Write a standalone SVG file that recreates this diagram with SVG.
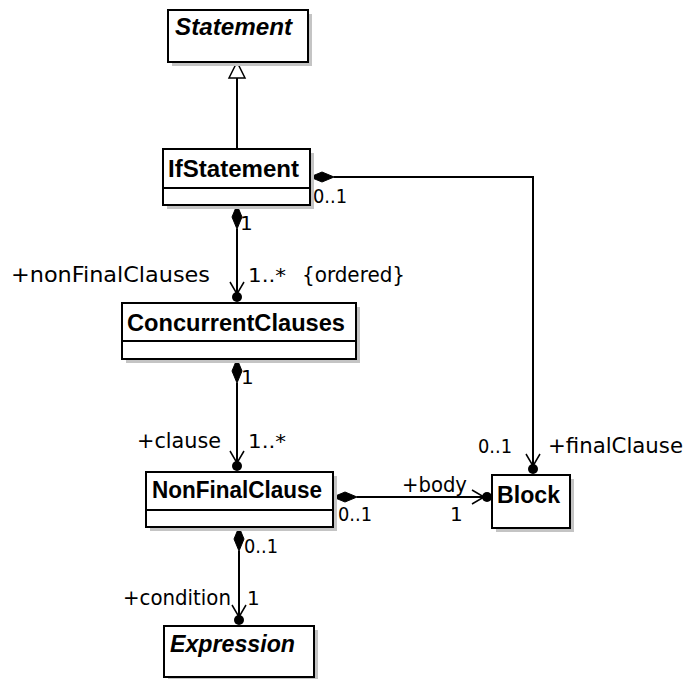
<svg xmlns="http://www.w3.org/2000/svg" width="689" height="679" viewBox="0 0 689 679">
<style>
.shadow{fill:#c4c4c4}
.box{fill:#fff;stroke:#000;stroke-width:2}
.div{stroke:#000;stroke-width:2}
.name{font-family:"Liberation Sans",Arial,sans-serif;font-weight:bold;font-size:23px;fill:#000}
.abs{font-style:italic}
.lbl{font-family:"DejaVu Sans","Liberation Sans",sans-serif;font-size:21px;fill:#000}
.num{font-family:"DejaVu Sans","Liberation Sans",sans-serif;font-size:20px;fill:#000}
.ln{fill:none;stroke:#000;stroke-width:2}
.dia{fill:#000;stroke:#000;stroke-width:1}
.dot{fill:#000}
.arr{fill:none;stroke:#000;stroke-width:1.5}
</style>
<rect width="689" height="679" fill="#fff"/>
<g id="connectors">
  <line class="ln" x1="237" y1="78" x2="237" y2="149"/>
  <polygon points="237,62 229,78 245,78" fill="#fff" stroke="#000" stroke-width="1.5"/>
  <line class="ln" x1="237" y1="229" x2="237" y2="297"/>
  <polygon class="dia" points="237,205 242,217 237,229 232,217"/>
  <polyline class="arr" points="230,282 237,294 244,282"/>
  <circle class="dot" cx="237" cy="297" r="5"/>
  <line class="ln" x1="237" y1="383" x2="237" y2="466"/>
  <polygon class="dia" points="237,359 242,371 237,383 232,371"/>
  <polyline class="arr" points="230,451 237,463 244,451"/>
  <circle class="dot" cx="237" cy="466" r="5"/>
  <line class="ln" x1="239" y1="551" x2="239" y2="620"/>
  <polygon class="dia" points="239,527 244,539 239,551 234,539"/>
  <polyline class="arr" points="232,605 239,617 246,605"/>
  <circle class="dot" cx="239" cy="620" r="5"/>
  <line class="ln" x1="357" y1="497" x2="487" y2="497"/>
  <polygon class="dia" points="333,497 345,492 357,497 345,502"/>
  <polyline class="arr" points="472,490 484,497 472,504"/>
  <circle class="dot" cx="487" cy="497" r="5"/>
  <polyline class="ln" points="334,177 533,177 533,469"/>
  <polygon class="dia" points="310,177 322,172 334,177 322,182"/>
  <polyline class="arr" points="526,454 533,466 540,454"/>
  <circle class="dot" cx="533" cy="469" r="5"/>
  <text class="num" x="313" y="203" textLength="34" lengthAdjust="spacingAndGlyphs">0..1</text>
  <text class="num" x="240" y="230">1</text>
  <text class="lbl" x="11" y="282" textLength="199" lengthAdjust="spacingAndGlyphs">+nonFinalClauses</text>
  <text class="num" x="248" y="282" textLength="38" lengthAdjust="spacingAndGlyphs">1..*</text>
  <text class="lbl" x="302" y="282" textLength="103" lengthAdjust="spacingAndGlyphs">{ordered}</text>
  <text class="num" x="241" y="384">1</text>
  <text class="lbl" x="137" y="448" textLength="84" lengthAdjust="spacingAndGlyphs">+clause</text>
  <text class="num" x="248" y="448" textLength="38" lengthAdjust="spacingAndGlyphs">1..*</text>
  <text class="num" x="478" y="453" textLength="34" lengthAdjust="spacingAndGlyphs">0..1</text>
  <text class="lbl" x="548" y="453" textLength="135" lengthAdjust="spacingAndGlyphs">+finalClause</text>
  <text class="lbl" x="402" y="492" textLength="65" lengthAdjust="spacingAndGlyphs">+body</text>
  <text class="num" x="338" y="521" textLength="34" lengthAdjust="spacingAndGlyphs">0..1</text>
  <text class="num" x="450" y="521">1</text>
  <text class="num" x="244" y="553" textLength="34" lengthAdjust="spacingAndGlyphs">0..1</text>
  <text class="lbl" x="123" y="605" textLength="108" lengthAdjust="spacingAndGlyphs">+condition</text>
  <text class="num" x="247" y="605">1</text>
</g>
<g id="Statement">
  <rect class="shadow" x="172" y="14" width="140" height="52"/>
  <rect class="box" x="168" y="10" width="140" height="52"/>
  <text class="name abs" x="175" y="35" textLength="117" lengthAdjust="spacingAndGlyphs">Statement</text>
</g>
<g id="IfStatement">
  <rect class="shadow" x="167" y="153" width="147" height="56"/>
  <rect class="box" x="163" y="149" width="147" height="56"/>
  <line class="div" x1="163" y1="188" x2="310" y2="188"/>
  <text class="name" x="168" y="177" textLength="131" lengthAdjust="spacingAndGlyphs">IfStatement</text>
</g>
<g id="ConcurrentClauses">
  <rect class="shadow" x="126" y="307" width="234" height="56"/>
  <rect class="box" x="122" y="303" width="234" height="56"/>
  <line class="div" x1="122" y1="341" x2="356" y2="341"/>
  <text class="name" x="127" y="331" textLength="218" lengthAdjust="spacingAndGlyphs">ConcurrentClauses</text>
</g>
<g id="NonFinalClause">
  <rect class="shadow" x="150" y="476" width="187" height="55"/>
  <rect class="box" x="146" y="472" width="187" height="55"/>
  <line class="div" x1="146" y1="510" x2="333" y2="510"/>
  <text class="name" x="152" y="498" textLength="170" lengthAdjust="spacingAndGlyphs">NonFinalClause</text>
</g>
<g id="Block">
  <rect class="shadow" x="496" y="479" width="78" height="53"/>
  <rect class="box" x="492" y="475" width="78" height="53"/>
  <text class="name" x="497" y="503" textLength="63" lengthAdjust="spacingAndGlyphs">Block</text>
</g>
<g id="Expression">
  <rect class="shadow" x="168" y="630" width="150" height="51"/>
  <rect class="box" x="164" y="626" width="150" height="51"/>
  <text class="name abs" x="170" y="652" textLength="125" lengthAdjust="spacingAndGlyphs">Expression</text>
</g>
</svg>
